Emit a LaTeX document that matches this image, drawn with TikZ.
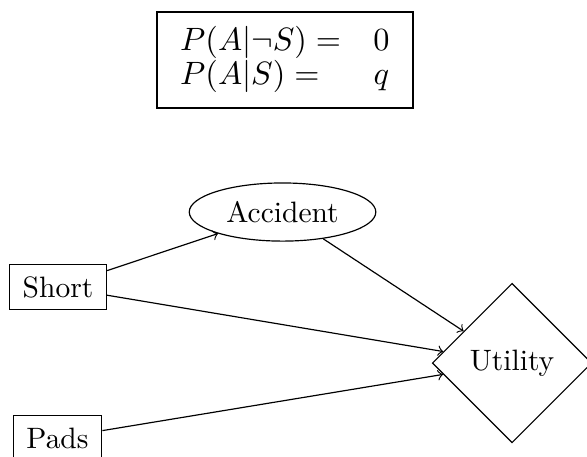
\documentclass[tikz,border=0pt]{standalone}
\usetikzlibrary{shapes.geometric}
\begin{document}
\begin{tikzpicture}[
    decision/.style={draw, rectangle, inner xsep=4.5pt, inner ysep=4pt},
    chance/.style={draw, ellipse},
    utility/.style={draw, diamond, minimum width=1.9cm, minimum height=1.9cm},
  ]
    % marco de la figura
    \useasboundingbox (0,0) rectangle (6.993,-5.444);

    % tabla de probabilidad condicional
    \node[draw, inner sep=0pt, minimum width=3.05cm, minimum height=1.144cm,
          font=\fontsize{11}{11}\selectfont] (cpt) at (3.395,-0.715)
        {\setlength{\arraycolsep}{5.5pt}%
         $\begin{array}{ll}
            P(A|\neg S) = & 0\\
            P(A|S) =      & q
          \end{array}$};

    % nodos del diagrama
    \node[chance]   (accident) at (3.366,-2.526) {Accident};
    \node[decision] (short)    at (0.691,-3.419) {Short};
    \node[decision] (pads)     at (0.685,-5.218) {Pads};
    \node[utility]  (util)     at (6.100,-4.325) {Utility};

    % arcos
    \draw[->] (short)    -- (accident);
    \draw[->] (short)    -- (util);
    \draw[->] (accident) -- (util);
    \draw[->] (pads)     -- (util);
\end{tikzpicture}
\end{document}
